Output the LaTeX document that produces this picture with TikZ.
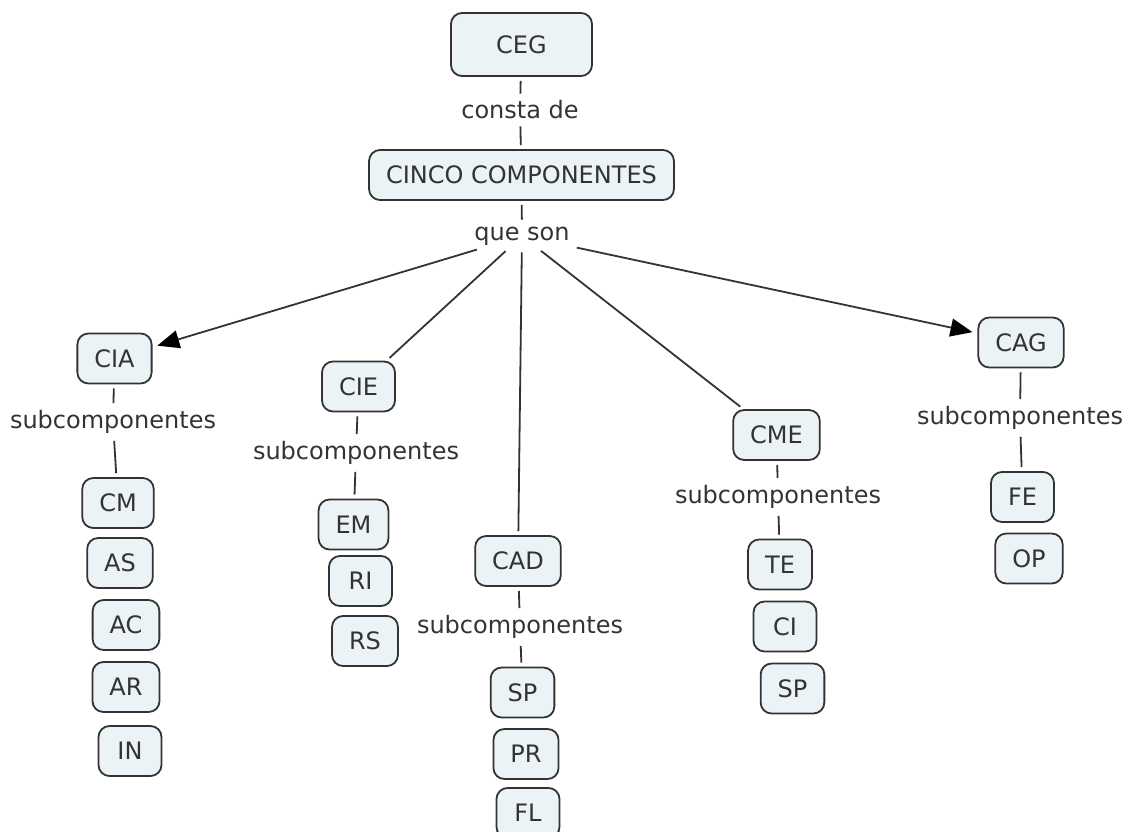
\documentclass[tikz,border=0pt]{standalone}
\usepackage{fontspec}
\setmainfont{DejaVu Sans}
\usetikzlibrary{arrows.meta}
\definecolor{ink}{HTML}{333333}
\definecolor{boxfill}{HTML}{ECF3F6}
\tikzset{
  concept/.style={draw=ink, fill=boxfill, line width=1.8pt, rounded corners=11pt,
    text=ink, font=\fontsize{24}{28}\selectfont, minimum height=50pt,
    minimum width=63pt, inner xsep=17pt, inner ysep=0pt},
  linkword/.style={text=ink, font=\fontsize{24}{28}\selectfont, inner sep=3pt},
  link/.style={draw=ink, line width=1.8pt, shorten <=4pt, shorten >=4pt},
  linkarrow/.style={link, shorten >=5pt,
    -{Triangle[length=22pt,width=18pt,fill=black,color=black]}}
}
\begin{document}
\begin{tikzpicture}[x=1pt,y=-1pt]
\useasboundingbox (0,0) rectangle (1125,832);

% top of the map
\node[concept, minimum width=141pt, minimum height=63pt] (ceg) at (521.5,44.5) {CEG};
\node[linkword] (consta) at (520,110) {consta de};
\node[concept] (cinco) at (521.5,175) {CINCO COMPONENTES};
\node[linkword] (queson) at (522,236) {que son};

% the five components
\node[concept] (cia) at (114.5,358.5) {CIA};
\node[concept] (cie) at (358.5,386.5) {CIE};
\node[concept] (cad) at (518,561) {CAD};
\node[concept] (cme) at (776.5,435) {CME};
\node[concept] (cag) at (1021,342.5) {CAG};

% CIA branch
\node[linkword] (subcia) at (113,422) {subcomponentes};
\node[concept] (cm) at (118,503) {CM};
\node[concept] (as) at (120,563) {AS};
\node[concept] (ac) at (126,625) {AC};
\node[concept] (ar) at (126,687) {AR};
\node[concept] (in) at (130,751) {IN};

% CIE branch
\node[linkword] (subcie) at (356,453) {subcomponentes};
\node[concept] (em) at (353.5,524.5) {EM};
\node[concept] (ri) at (360.5,581) {RI};
\node[concept] (rs) at (365,641) {RS};

% CAD branch
\node[linkword] (subcad) at (520,627) {subcomponentes};
\node[concept] (spa) at (522.5,692.5) {SP};
\node[concept] (pr) at (526,754) {PR};
\node[concept] (fl) at (528,813) {FL};

% CME branch
\node[linkword] (subcme) at (778,497) {subcomponentes};
\node[concept] (te) at (780,564.5) {TE};
\node[concept] (ci) at (785,626.5) {CI};
\node[concept] (spb) at (792.5,688.5) {SP};

% CAG branch
\node[linkword] (subcag) at (1020,418) {subcomponentes};
\node[concept] (fe) at (1022.5,497) {FE};
\node[concept] (op) at (1029,558.5) {OP};

% connectors
\draw[link] (ceg) -- (consta);
\draw[link] (consta) -- (cinco);
\draw[link] (cinco) -- (queson);
\draw[linkarrow] (queson) -- (cia);
\draw[link] (queson) -- (cie);
\draw[link] (queson) -- (cad);
\draw[link] (queson) -- (cme);
\draw[linkarrow] (queson) -- (cag);

\draw[link] (cia) -- (subcia);
\draw[link] (subcia) -- (cm);
\draw[link] (cie) -- (subcie);
\draw[link] (subcie) -- (em);
\draw[link] (cad) -- (subcad);
\draw[link] (subcad) -- (spa);
\draw[link] (cme) -- (subcme);
\draw[link] (subcme) -- (te);
\draw[link] (cag) -- (subcag);
\draw[link] (subcag) -- (fe);
\end{tikzpicture}
\end{document}
